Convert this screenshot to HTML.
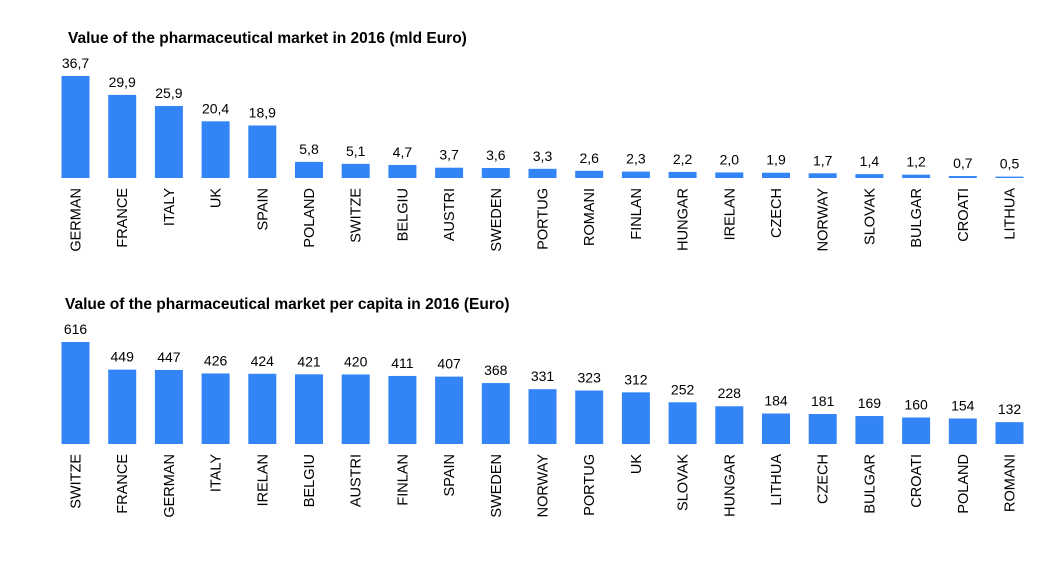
<!DOCTYPE html>
<html><head><meta charset="utf-8"><style>
body{margin:0;background:#fff;width:1053px;height:566px;overflow:hidden;font-family:"Liberation Sans",Arial,sans-serif}
</style></head><body>
<svg id="c" width="1053" height="566" font-family="Liberation Sans, Arial, sans-serif">
<text x="68" y="43" font-size="15.5" font-weight="bold" fill="#000">Value of the pharmaceutical market in 2016 (mld Euro)</text>
<text x="65" y="309" font-size="15.5" font-weight="bold" fill="#000">Value of the pharmaceutical market per capita in 2016 (Euro)</text>
</svg>
<script>
const topCats=["GERMAN","FRANCE","ITALY","UK","SPAIN","POLAND","SWITZE","BELGIU","AUSTRI","SWEDEN","PORTUG","ROMANI","FINLAN","HUNGAR","IRELAN","CZECH","NORWAY","SLOVAK","BULGAR","CROATI","LITHUA"];
const topVals=[36.7,29.9,25.9,20.4,18.9,5.8,5.1,4.7,3.7,3.6,3.3,2.6,2.3,2.2,2.0,1.9,1.7,1.4,1.2,0.7,0.5];
const botCats=["SWITZE","FRANCE","GERMAN","ITALY","IRELAN","BELGIU","AUSTRI","FINLAN","SPAIN","SWEDEN","NORWAY","PORTUG","UK","SLOVAK","HUNGAR","LITHUA","CZECH","BULGAR","CROATI","POLAND","ROMANI"];
const botVals=[616,449,447,426,424,421,420,411,407,368,331,323,312,252,228,184,181,169,160,154,132];
const svg=document.getElementById('c');
const NS="http://www.w3.org/2000/svg";
function draw(cats,vals,base,maxV,fmt,prefix){
  const x=i=>61.5+i*46.7;
  const y=v=>base-v/maxV*102;
  cats.forEach((c,i)=>{
    const r=document.createElementNS(NS,'rect');
    r.setAttribute('x',x(i));r.setAttribute('y',y(vals[i]));
    r.setAttribute('width',28);r.setAttribute('height',Math.max(base-y(vals[i]),1));
    r.setAttribute('fill','#3385f7');
    
    
    svg.appendChild(r);
    const t=document.createElementNS(NS,'text');
    t.setAttribute('x',x(i)+14);t.setAttribute('y',y(vals[i])-8);
    t.setAttribute('text-anchor','middle');t.setAttribute('font-size','14');
    t.textContent=fmt(vals[i]);
    
    
    svg.appendChild(t);
    const l=document.createElementNS(NS,'text');
    const lx=x(i)+19, ly=base+10;
    l.setAttribute('transform','translate('+lx+','+ly+') rotate(-90)');
    l.setAttribute('text-anchor','end');l.setAttribute('font-size','14.5');
    l.textContent=c;
    
    
    svg.appendChild(l);
  });
}
draw(topCats,topVals,178,36.7,v=>v.toFixed(1).replace('.',','),'top');
draw(botCats,botVals,444,616,v=>String(v),'bottom');
</script>
</body></html>
